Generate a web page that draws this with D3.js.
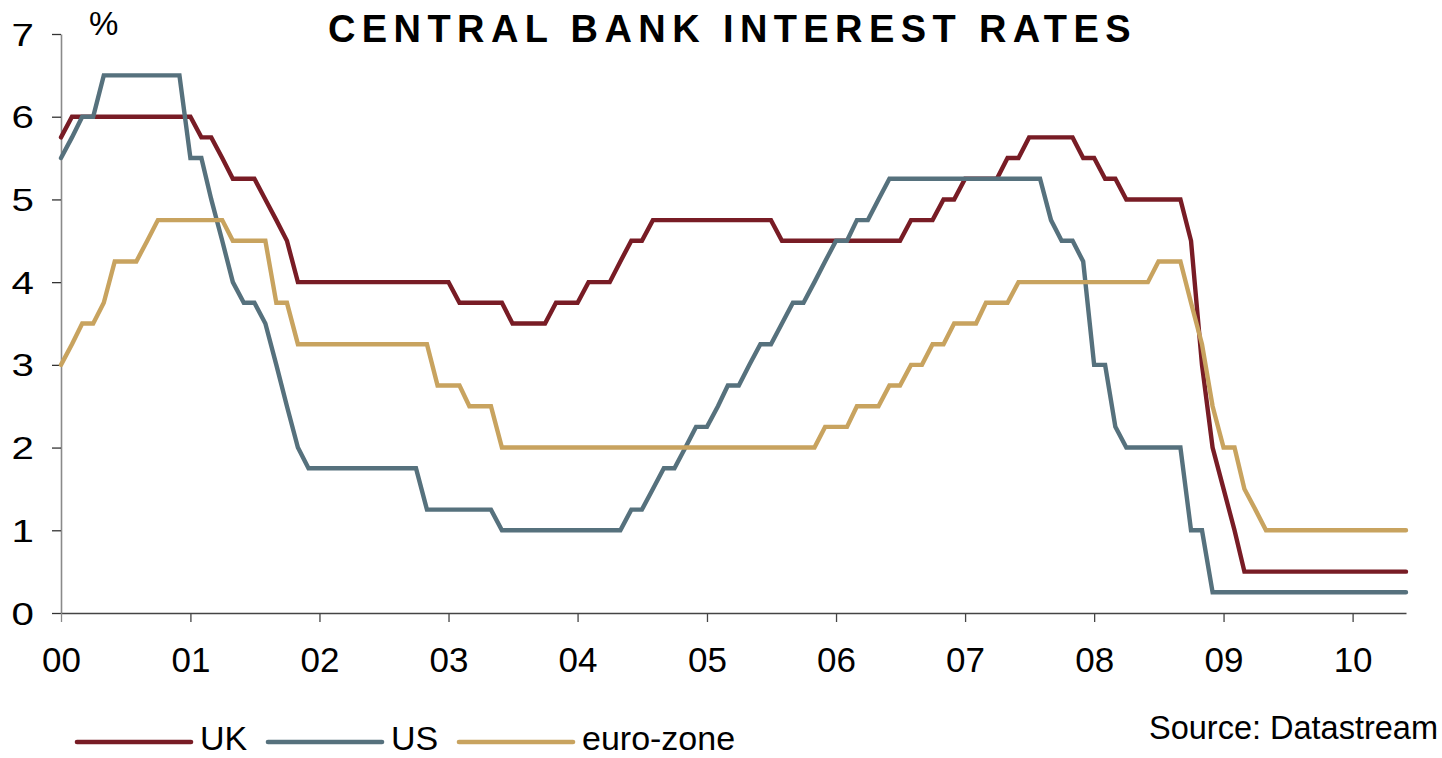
<!DOCTYPE html>
<html>
<head>
<meta charset="utf-8">
<script src="https://cdn.jsdelivr.net/npm/d3@7"></script>
<style>
  html, body { margin: 0; padding: 0; background: #ffffff; }
  svg { display: block; }
  text { font-family: "Liberation Sans", Arial, sans-serif; fill: #000; }
</style>
</head>
<body>
<svg id="chart" width="1442" height="758"></svg>
<script>
// ---- Data: end-of-month policy rates, Jan 2000 .. Jun 2010 (126 months) ----
const startMonth = new Date(2000, 0, 1);
const endMonth = new Date(2010, 5, 1);

const ukRates = [
  5.75, 6, 6, 6, 6, 6, 6, 6, 6, 6, 6, 6,
  6, 5.75, 5.75, 5.5, 5.25, 5.25, 5.25, 5, 4.75, 4.5, 4, 4,
  4, 4, 4, 4, 4, 4, 4, 4, 4, 4, 4, 4,
  4, 3.75, 3.75, 3.75, 3.75, 3.75, 3.5, 3.5, 3.5, 3.5, 3.75, 3.75,
  3.75, 4, 4, 4, 4.25, 4.5, 4.5, 4.75, 4.75, 4.75, 4.75, 4.75,
  4.75, 4.75, 4.75, 4.75, 4.75, 4.75, 4.75, 4.5, 4.5, 4.5, 4.5, 4.5,
  4.5, 4.5, 4.5, 4.5, 4.5, 4.5, 4.5, 4.75, 4.75, 4.75, 5, 5,
  5.25, 5.25, 5.25, 5.25, 5.5, 5.5, 5.75, 5.75, 5.75, 5.75, 5.75, 5.5,
  5.5, 5.25, 5.25, 5, 5, 5, 5, 5, 5, 4.5, 3, 2,
  1.5, 1, 0.5, 0.5, 0.5, 0.5, 0.5, 0.5, 0.5, 0.5, 0.5, 0.5,
  0.5, 0.5, 0.5, 0.5, 0.5, 0.5
];

const usRates = [
  5.5, 5.75, 6, 6, 6.5, 6.5, 6.5, 6.5, 6.5, 6.5, 6.5, 6.5,
  5.5, 5.5, 5, 4.5, 4, 3.75, 3.75, 3.5, 3, 2.5, 2, 1.75,
  1.75, 1.75, 1.75, 1.75, 1.75, 1.75, 1.75, 1.75, 1.75, 1.75, 1.25, 1.25,
  1.25, 1.25, 1.25, 1.25, 1.25, 1, 1, 1, 1, 1, 1, 1,
  1, 1, 1, 1, 1, 1.25, 1.25, 1.5, 1.75, 1.75, 2, 2.25,
  2.25, 2.5, 2.75, 2.75, 3, 3.25, 3.25, 3.5, 3.75, 3.75, 4, 4.25,
  4.5, 4.5, 4.75, 4.75, 5, 5.25, 5.25, 5.25, 5.25, 5.25, 5.25, 5.25,
  5.25, 5.25, 5.25, 5.25, 5.25, 5.25, 5.25, 5.25, 4.75, 4.5, 4.5, 4.25,
  3, 3, 2.25, 2, 2, 2, 2, 2, 2, 1, 1, 0.25,
  0.25, 0.25, 0.25, 0.25, 0.25, 0.25, 0.25, 0.25, 0.25, 0.25, 0.25, 0.25,
  0.25, 0.25, 0.25, 0.25, 0.25, 0.25
];

const euroRates = [
  3, 3.25, 3.5, 3.5, 3.75, 4.25, 4.25, 4.25, 4.5, 4.75, 4.75, 4.75,
  4.75, 4.75, 4.75, 4.75, 4.5, 4.5, 4.5, 4.5, 3.75, 3.75, 3.25, 3.25,
  3.25, 3.25, 3.25, 3.25, 3.25, 3.25, 3.25, 3.25, 3.25, 3.25, 3.25, 2.75,
  2.75, 2.75, 2.5, 2.5, 2.5, 2, 2, 2, 2, 2, 2, 2,
  2, 2, 2, 2, 2, 2, 2, 2, 2, 2, 2, 2,
  2, 2, 2, 2, 2, 2, 2, 2, 2, 2, 2, 2.25,
  2.25, 2.25, 2.5, 2.5, 2.5, 2.75, 2.75, 3, 3, 3.25, 3.25, 3.5,
  3.5, 3.5, 3.75, 3.75, 3.75, 4, 4, 4, 4, 4, 4, 4,
  4, 4, 4, 4, 4, 4, 4.25, 4.25, 4.25, 3.75, 3.25, 2.5,
  2, 2, 1.5, 1.25, 1, 1, 1, 1, 1, 1, 1, 1,
  1, 1, 1, 1, 1, 1
];

const seriesNames = ["UK", "US", "euro-zone"];
const seriesColors = ["#781c25", "#56717d", "#c8a35f"];
const yTickValues = [0, 1, 2, 3, 4, 5, 6, 7];
const xTickYears = [2000, 2001, 2002, 2003, 2004, 2005, 2006, 2007, 2008, 2009, 2010];
const xTickLabels = ["00", "01", "02", "03", "04", "05", "06", "07", "08", "09", "10"];
const titleText = "CENTRAL BANK INTEREST RATES";
const unitText = "%";
const sourceText = "Source: Datastream";

// ---- Build ----
const months = d3.timeMonth.range(startMonth, d3.timeMonth.offset(endMonth, 1));
const allSeries = [ukRates, usRates, euroRates].map((vals, i) => ({
  name: seriesNames[i],
  color: seriesColors[i],
  values: vals.map((v, j) => ({ date: months[j], value: v }))
}));

const svg = d3.select("#chart");
svg.append("rect").attr("width", 1442).attr("height", 758).attr("fill", "#fff");

const x = d3.scaleTime().domain([startMonth, endMonth]).range([61, 1406]);
const y = d3.scaleLinear().domain([0, 7]).range([613, 34]);

// Title
svg.append("text")
  .attr("x", 328).attr("y", 41.5)
  .attr("font-size", 38).attr("font-weight", "bold")
  .attr("letter-spacing", 6.4)
  .text(titleText);

// Unit
svg.append("text")
  .attr("x", 89).attr("y", 35)
  .attr("font-size", 33)
  .text(unitText);

// Y axis
const yAxis = d3.axisLeft(y).tickValues(yTickValues).tickSize(9).tickSizeOuter(0).tickFormat(d3.format("d"));
const gy = svg.append("g").attr("transform", "translate(61,0)").call(yAxis);
gy.select(".domain").attr("stroke", "#8a8a8a").attr("stroke-width", 1.6);
gy.selectAll(".tick line").attr("stroke", "#333").attr("stroke-width", 1.3);
gy.selectAll(".tick text").remove();
gy.selectAll(".tick").append("text")
  .attr("text-anchor", "end")
  .attr("font-size", 31)
  .attr("transform", "translate(-27,11) scale(1.3,1)")
  .text(d => d);

// X axis
const xAxis = d3.axisBottom(x)
  .tickValues(xTickYears.map(yr => new Date(yr, 0, 1)))
  .tickSize(9).tickSizeOuter(0)
  .tickFormat((d, i) => xTickLabels[i]);
const gx = svg.append("g").attr("transform", "translate(0,613)").call(xAxis);
gx.select(".domain").attr("stroke", "#444").attr("stroke-width", 1.6);
gx.selectAll(".tick line").attr("stroke", "#444").attr("stroke-width", 1.3);
gx.selectAll(".tick text")
  .attr("font-size", 35).attr("fill", "#000")
  .attr("font-family", "Liberation Sans, Arial, sans-serif")
  .attr("y", 59).attr("dy", 0);
gx.selectAll(".tick").filter((d, i) => i === 0).select("line").attr("stroke", "#8a8a8a");

// Lines
const line = d3.line().x(d => x(d.date)).y(d => y(d.value));
svg.append("g").selectAll("path")
  .data(allSeries)
  .join("path")
  .attr("d", d => line(d.values))
  .attr("fill", "none")
  .attr("stroke", d => d.color)
  .attr("stroke-width", 4.4)
  .attr("stroke-linejoin", "miter")
  .attr("stroke-linecap", "round");

// Legend
const legendX = [77, 268, 459];
const legend = svg.append("g");
allSeries.forEach((s, i) => {
  legend.append("line")
    .attr("x1", legendX[i]).attr("x2", legendX[i] + 114)
    .attr("y1", 742).attr("y2", 742)
    .attr("stroke", s.color).attr("stroke-width", 4.6).attr("stroke-linecap", "round");
  legend.append("text")
    .attr("x", legendX[i] + 123).attr("y", 750)
    .attr("font-size", 34)
    .text(s.name);
});

// Source
svg.append("text")
  .attr("x", 1438).attr("y", 739)
  .attr("text-anchor", "end")
  .attr("font-size", 32.5)
  .text(sourceText);
</script>
</body>
</html>
